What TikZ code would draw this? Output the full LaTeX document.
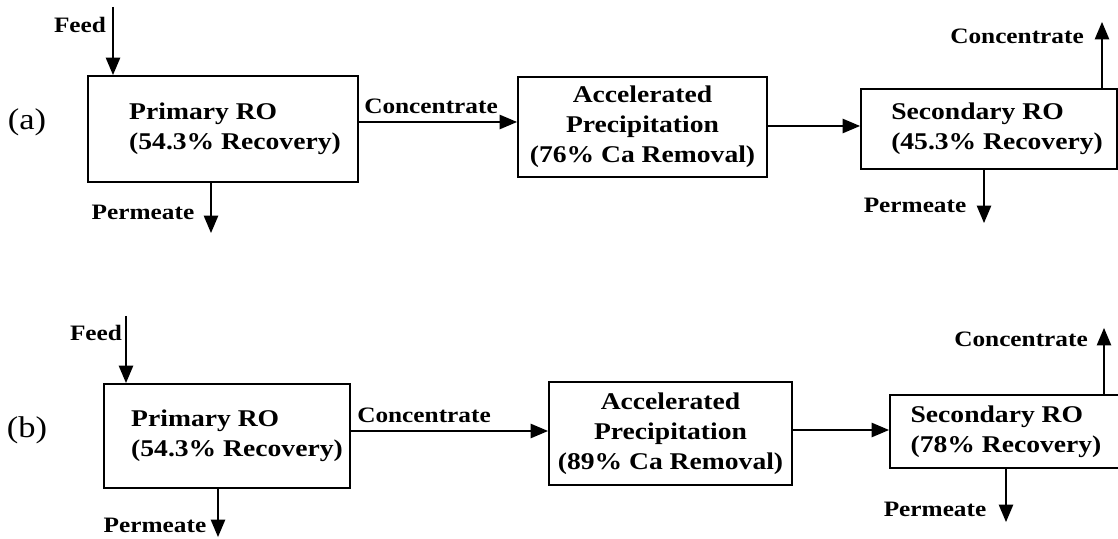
\documentclass[tikz,border=0pt]{standalone}
\usepackage{fontspec}
\setmainfont[FakeStretch=1.15]{Liberation Serif}
\usepackage{tikz}
\usetikzlibrary{arrows}
\tikzstyle{unit}=[rectangle,draw=black,inner sep=0mm,font=\fontsize{12}{15}\selectfont\bfseries]
\tikzstyle{stream}=[inner sep=0mm,font=\fontsize{11}{13}\selectfont\bfseries]
\tikzstyle{tag}=[inner sep=0mm,font=\fontsize{15}{18}\selectfont]
\tikzstyle{arrow}=[->,>=triangle 45]
\tikzset{every picture/.style={
    line width=1
  }
}

\begin{document}
\begin{tikzpicture}[x=0.5pt,y=-0.5pt]
      \useasboundingbox (0,0) rectangle (1118,539);
      % (a)
      \node[tag] at (27,122) (taga) {(a)};
      \node[unit,align=left,minimum width=135pt,minimum height=53pt] at (223,129) (pa) {\hspace*{12pt}Primary RO\\\hspace*{12pt}(54.3\% Recovery)};
      \node[unit,align=center,minimum width=124.5pt,minimum height=50pt] at (642.5,127) (ca) {Accelerated\\Precipitation\\(76\% Ca Removal)};
      \node[unit,align=left,minimum width=128pt,minimum height=40pt] at (989,129) (sa) {\hspace*{8pt}Secondary RO\\\hspace*{8pt}(45.3\% Recovery)};
      \node[stream] at (80,25) (feeda) {Feed};
      \node[stream] at (143,212) (perma) {Permeate};
      \node[stream] at (431,106) (conca) {Concentrate};
      \node[stream] at (1017,36) (concouta) {Concentrate};
      \node[stream] at (915,205) (permouta) {Permeate};
      \coordinate (fa) at (113,7);
      \coordinate (pma) at (211,233);
      \coordinate (coa) at (1102,22);
      \coordinate (poa) at (984,223);
      \coordinate (ya1) at (0,122);
      \coordinate (ya2) at (0,126);
      \draw[arrow] (fa)--(fa |- pa.north);
      \draw[arrow] (pma |- pa.south)--(pma);
      \draw[arrow] (pa.east |- ya1)--(ca.west |- ya1);
      \draw[arrow] (ca.east |- ya2)--(sa.west |- ya2);
      \draw[arrow] (coa |- sa.north)--(coa);
      \draw[arrow] (poa |- sa.south)--(poa);
      % (b)
      \node[tag] at (27,430) (tagb) {(b)};
      \node[unit,align=left,minimum width=123pt,minimum height=52pt] at (227,436) (pb) {\hspace*{10pt}Primary RO\\\hspace*{10pt}(54.3\% Recovery)};
      \node[unit,align=center,minimum width=121.5pt,minimum height=51.5pt] at (670.5,433.5) (cb) {Accelerated\\Precipitation\\(89\% Ca Removal)};
      \node[unit,align=left,minimum width=116pt,minimum height=36.5pt] at (1006,431.5) (sb) {Secondary RO\\(78\% Recovery)};
      \node[stream] at (96,333) (feedb) {Feed};
      \node[stream] at (155,525) (permb) {Permeate};
      \node[stream] at (424,415) (concb) {Concentrate};
      \node[stream] at (1021,339) (concoutb) {Concentrate};
      \node[stream] at (935,509) (permoutb) {Permeate};
      \coordinate (fb) at (126,316);
      \coordinate (pmb) at (218,537);
      \coordinate (cob) at (1104,328);
      \coordinate (pob) at (1006,522);
      \coordinate (yb1) at (0,431);
      \coordinate (yb2) at (0,430);
      \draw[arrow] (fb)--(fb |- pb.north);
      \draw[arrow] (pmb |- pb.south)--(pmb);
      \draw[arrow] (pb.east |- yb1)--(cb.west |- yb1);
      \draw[arrow] (cb.east |- yb2)--(sb.west |- yb2);
      \draw[arrow] (cob |- sb.north)--(cob);
      \draw[arrow] (pob |- sb.south)--(pob);
\end{tikzpicture}
\end{document}
